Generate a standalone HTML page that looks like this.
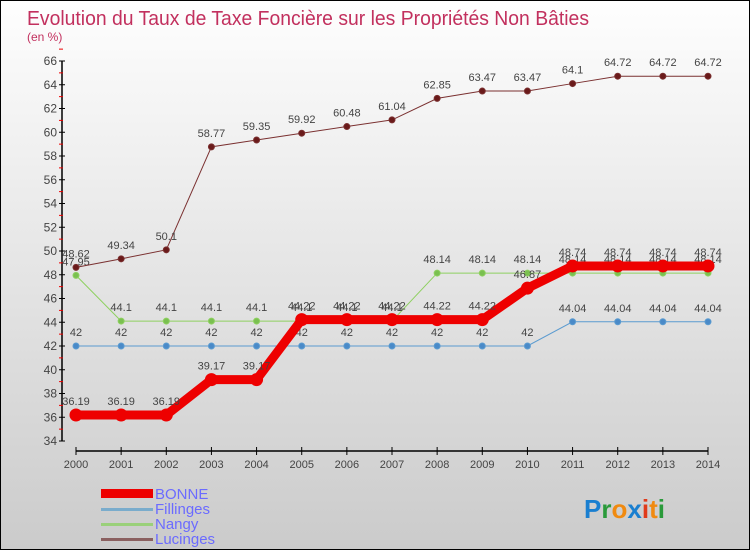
<!DOCTYPE html>
<html><head><meta charset="utf-8"><style>
body{margin:0;width:750px;height:550px;overflow:hidden;font-family:"Liberation Sans",sans-serif}
#wrap{position:relative;width:748px;height:548px;border:1px solid #000;background:linear-gradient(#fefefe,#cbcbcb)}
</style></head><body>
<div id="wrap">
<svg id="chart" width="748" height="548" style="position:absolute;left:0;top:0">
<text x="26" y="24" font-size="20" fill="#c2305e" textLength="562" lengthAdjust="spacingAndGlyphs">Evolution du Taux de Taxe Foncière sur les Propriétés Non Bâties</text>
<text x="26" y="40" font-size="12" fill="#c2305e">(en %)</text>
<g id="axes"></g><g id="series"></g>
<g>
<rect x="100" y="488" width="52" height="9" fill="#e00"/>
<text x="154" y="498" font-size="15" fill="#6b6bff">BONNE</text>
<rect x="100" y="507" width="52" height="3" fill="#7aaccc"/>
<text x="154" y="513" font-size="15" fill="#6b6bff">Fillinges</text>
<rect x="100" y="522" width="52" height="3" fill="#9ad07a"/>
<text x="154" y="528" font-size="15" fill="#6b6bff">Nangy</text>
<rect x="100" y="537" width="52" height="3" fill="#8a6060"/>
<text x="154" y="543" font-size="15" fill="#6b6bff">Lucinges</text>
</g>
<text x="583" y="517" font-size="26" font-weight="bold"><tspan fill="#1a7fd0">P</tspan><tspan fill="#2a9a3a">r</tspan><tspan fill="#f08a10">o</tspan><tspan fill="#1a7fd0">x</tspan><tspan fill="#e03a1a">i</tspan><tspan fill="#f08a10">t</tspan><tspan fill="#2a9a3a">i</tspan></text>
</svg></div>
<script>
const years=[2000,2001,2002,2003,2004,2005,2006,2007,2008,2009,2010,2011,2012,2013,2014];
const yTicks=[34,36,38,40,42,44,46,48,50,52,54,56,58,60,62,64,66];
const bonne=[36.19,36.19,36.19,39.17,39.17,44.22,44.22,44.22,44.22,44.22,46.87,48.74,48.74,48.74,48.74];
const fillinges=[42,42,42,42,42,42,42,42,42,42,42,44.04,44.04,44.04,44.04];
const nangy=[47.95,44.1,44.1,44.1,44.1,44.1,44.1,44.1,48.14,48.14,48.14,48.14,48.14,48.14,48.14];
const lucinges=[48.62,49.34,50.1,58.77,59.35,59.92,60.48,61.04,62.85,63.47,63.47,64.1,64.72,64.72,64.72];
const NS='http://www.w3.org/2000/svg';
const X=i=>75+i*(707-75)/(years.length-1);
const Y=v=>440-(v-34)*(380/32);
function mk(t,a,p){const e=document.createElementNS(NS,t);for(const k in a)e.setAttribute(k,a[k]);p.appendChild(e);return e;}
const ax=document.getElementById('axes'),sg=document.getElementById('series');
const yl=mk('line',{x1:61,y1:Y(66),x2:61,y2:Y(34),stroke:'#000','stroke-width':1.5},ax);


yTicks.forEach(v=>{mk('line',{x1:58,x2:64,y1:Y(v),y2:Y(v),stroke:'#000'},ax);
mk('line',{x1:58,x2:62,y1:Y(v+1),y2:Y(v+1),stroke:'#e00'},ax);
const t=mk('text',{x:56,y:Y(v)+4,'font-size':12,'text-anchor':'end',fill:'#444'},ax);t.textContent=v;

});
const xl=mk('line',{x1:75,x2:707,y1:450,y2:450,stroke:'#000','stroke-width':1.5},ax);


years.forEach((y,i)=>{mk('line',{x1:X(i),x2:X(i),y1:446,y2:454,stroke:'#000'},ax);
const t=mk('text',{x:X(i),y:467,'font-size':11,'text-anchor':'middle',fill:'#444'},ax);t.textContent=y;

});
function series(d,name,col,w,r,dot){const g=mk('g',{},sg);


mk('polyline',{points:d.map((v,i)=>X(i)+','+Y(v)).join(' '),fill:'none',stroke:col,'stroke-width':w},g);
d.forEach((v,i)=>{const c=mk('circle',{cx:X(i),cy:Y(v),r:r,fill:dot,stroke:col,'stroke-width':1},g);


const t=mk('text',{x:X(i),y:Y(v)-10,'font-size':11,'text-anchor':'middle',fill:'#444'},g);t.textContent=v;

});}
series(fillinges,'fillinges','#5b9bd0',1,3,'#4a8ac8');
series(nangy,'nangy','#8ed060',1,3,'#7ac050');
series(lucinges,'lucinges','#7a3030',1,3,'#6a1a1a');
series(bonne,'bonne','#ee0000',9,6,'#ee0000');
</script>
</body></html>
